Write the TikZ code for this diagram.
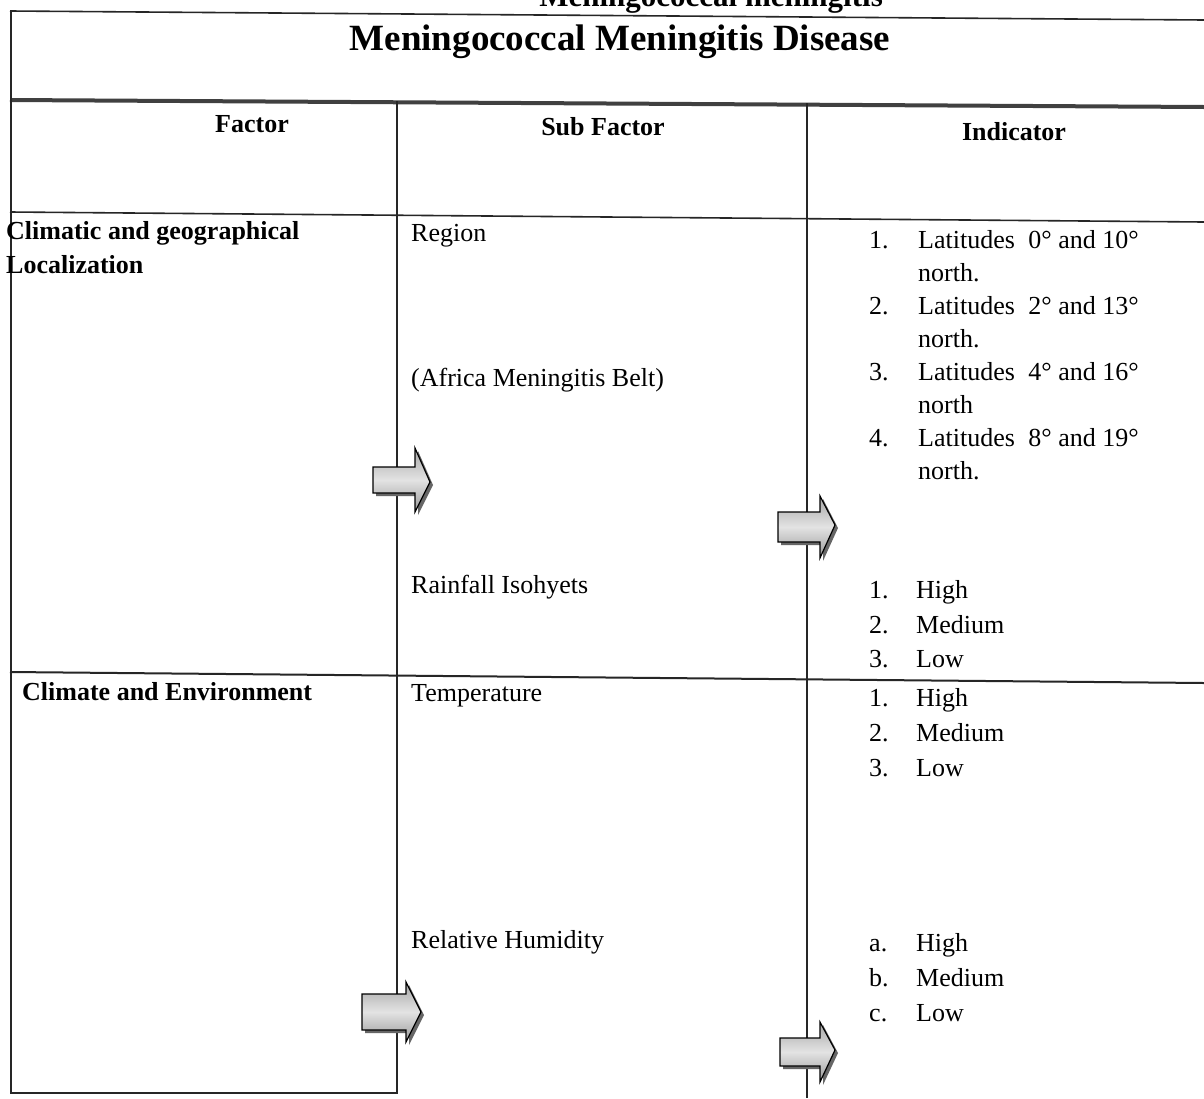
\documentclass[tikz,border=0pt]{standalone}
\usepackage{fontspec}
\setmainfont{Liberation Serif}
\newcommand\blockarr[7]{%
  % #1 left x, #2 centre y, #3 body half height, #4 head half height, #5 body length, #6 head length, #7 tip y shift
  \fill[gray!80!black] ({#1+3},{#2-#3+3}) -- ({#1+#5+3},{#2-#3+3}) -- ({#1+#5+3},{#2-#4+3}) -- ({#1+#5+#6+3},{#2+#7+3}) -- ({#1+#5+3},{#2+#4+3}) -- ({#1+#5+3},{#2+#3+3}) -- ({#1+3},{#2+#3+3}) -- cycle;
  \draw[arrowline, top color=gray!70, bottom color=gray!80, middle color=gray!22]
    (#1,{#2-#3}) -- ({#1+#5},{#2-#3}) -- ({#1+#5},{#2-#4}) -- ({#1+#5+#6},{#2+#7}) -- ({#1+#5},{#2+#4}) -- ({#1+#5},{#2+#3}) -- (#1,{#2+#3}) -- cycle;}
\begin{document}
\begin{tikzpicture}[x=1pt,y=-1pt,
  rule/.style={line width=1.6pt, black!85},
  thickrule/.style={line width=4pt, black!75},
  vrule/.style={line width=1.3pt, black!85},
  arrowline/.style={line width=1.2pt, black},
  txt/.style={font=\fontsize{26}{32}\selectfont, anchor=base west, inner sep=0pt},
  btxt/.style={font=\fontsize{26}{32}\selectfont\bfseries, anchor=base west, inner sep=0pt},
  hdr/.style={font=\fontsize{26}{32}\selectfont\bfseries, anchor=base, inner sep=0pt},
  num/.style={font=\fontsize{26}{32}\selectfont, anchor=base west, inner sep=0pt}]
\useasboundingbox (0,0) rectangle (1204,1098);
\clip (0,0) rectangle (1204,1098);
\fill[white] (0,0) rectangle (1204,1098);

% cut-off caption above the table
\node[font=\fontsize{31}{36}\selectfont\bfseries, anchor=base east, inner sep=0pt] (caption) at (883,6) {Meningococcal meningitis};

% horizontal rules
\draw[rule] (10,11) -- (1204,20);
\draw[thickrule] (10,100) -- (1204,107);
\draw[rule] (10,212) -- (1204,222);
\draw[line width=2pt, black!85] (10,672) -- (1204,683);
\draw[rule] (10,1093) -- (398,1093);

% vertical rules
\draw[vrule] (11,11) -- (11,1094);
\draw[vrule] (397,101) -- (397,1094);
\draw[vrule] (807,103) -- (807,1098);

% title and headers
\node[font=\fontsize{37}{42}\selectfont\bfseries, anchor=base, inner sep=0pt] (title) at (620,50) {Meningococcal Meningitis Disease};
\node[hdr] (hfactor) at (252,132) {Factor};
\node[hdr] (hsub) at (603,135) {Sub Factor};
\node[hdr] (hind) at (1014,140) {Indicator};

% column 1
\node[btxt] (f1a) at (6,239) {Climatic and geographical};
\node[btxt] (f1b) at (6,273) {Localization};
\node[btxt] (f2) at (22,700) {Climate and Environment};

% column 2
\node[txt] (s1) at (411,241) {Region};
\node[txt] (s2) at (411,386) {(Africa Meningitis Belt)};
\node[txt] (s3) at (411,593) {Rainfall Isohyets};
\node[txt] (s4) at (411,701) {Temperature};
\node[txt] (s5) at (411,948) {Relative Humidity};

% column 3 : latitudes
\node[num] (n1) at (869,248) {1.};
\node[txt] (l1) at (918,248) {Latitudes\hspace{7pt} 0° and 10°};
\node[txt] (l1b) at (918,281) {north.};
\node[num] (n2) at (869,314) {2.};
\node[txt] (l2) at (918,314) {Latitudes\hspace{7pt} 2° and 13°};
\node[txt] (l2b) at (918,347) {north.};
\node[num] (n3) at (869,380) {3.};
\node[txt] (l3) at (918,380) {Latitudes\hspace{7pt} 4° and 16°};
\node[txt] (l3b) at (918,413) {north};
\node[num] (n4) at (869,446) {4.};
\node[txt] (l4) at (918,446) {Latitudes\hspace{7pt} 8° and 19°};
\node[txt] (l4b) at (918,479) {north.};

% rainfall levels
\node[num] (r1n) at (869,598) {1.};
\node[txt] (r1) at (916,598) {High};
\node[num] (r2n) at (869,633) {2.};
\node[txt] (r2) at (916,633) {Medium};
\node[num] (r3n) at (869,667) {3.};
\node[txt] (r3) at (916,667) {Low};

% temperature levels
\node[num] (t1n) at (869,706) {1.};
\node[txt] (t1) at (916,706) {High};
\node[num] (t2n) at (869,741) {2.};
\node[txt] (t2) at (916,741) {Medium};
\node[num] (t3n) at (869,776) {3.};
\node[txt] (t3) at (916,776) {Low};

% humidity levels
\node[num] (h1n) at (869,951) {a.};
\node[txt] (h1) at (916,951) {High};
\node[num] (h2n) at (869,986) {b.};
\node[txt] (h2) at (916,986) {Medium};
\node[num] (h3n) at (869,1021) {c.};
\node[txt] (h3) at (916,1021) {Low};

% block arrows
\blockarr{373}{480}{13}{32}{42}{15}{2}
\blockarr{778}{527}{15}{31}{42}{15}{-2}
\blockarr{362}{1012}{18}{30}{44}{15}{0}
\blockarr{780}{1052}{14}{30}{40}{15}{-2}
\end{tikzpicture}
\end{document}
